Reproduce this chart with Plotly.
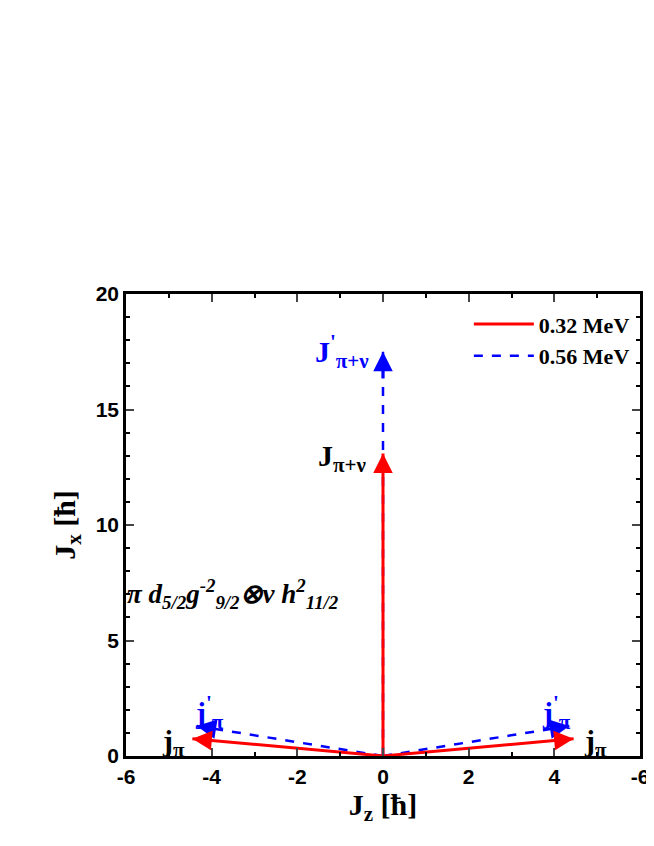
import plotly.graph_objects as go

# data
red_tips = [(0, 13.1), (4.45, 0.75), (-4.45, 0.75)]
blue_tips = [(0, 17.5), (4.35, 1.3), (-4.35, 1.3)]
xticks = [-6, -4, -2, 0, 2, 4, 6]
xticklabels = ["-6", "-4", "-2", "0", "2", "4", "-6"]
yticks = [0, 5, 10, 15, 20]

RED = "#ff0000"; BLUE = "#0000ff"
fig = go.Figure()
first = True
for (x, y) in blue_tips:
    fig.add_trace(go.Scatter(x=[0, x], y=[0, y], mode="lines", line=dict(color=BLUE, width=2.5, dash="dash"),
                             name="0.56 MeV", showlegend=first, legendrank=2))
    first = False
first = True
for (x, y) in red_tips:
    fig.add_trace(go.Scatter(x=[0, x], y=[0, y], mode="lines", line=dict(color=RED, width=3),
                             name="0.32 MeV", showlegend=first, legendrank=1))
    first = False

def head(x, y, c):
    f = 0.93 if x == 0 else 0.9
    fig.add_annotation(x=x, y=y, ax=x * f if x else 0, ay=y * f, xref="x", yref="y", axref="x", ayref="y",
                       showarrow=True, arrowhead=2, arrowsize=1.3, arrowwidth=3, arrowcolor=c, text="")
for (x, y) in blue_tips: head(x, y, BLUE)
for (x, y) in red_tips: head(x, y, RED)

TF = "Liberation Serif"
def lab(x, y, t, c, size=30):
    fig.add_annotation(x=x, y=y, xref="x", yref="y", text=t, showarrow=False,
                       font=dict(family=TF, size=size, color=c))
lab(-0.95, 17.5, "<b>J<sup>'</sup><sub>π+ν</sub></b>", BLUE)
lab(-0.95, 12.9, "<b>J<sub>π+ν</sub></b>", "black")
lab(-4.05, 1.9, "<b>j<sup>'</sup><sub>π</sub></b>", BLUE)
lab(4.05, 1.9, "<b>j<sup>'</sup><sub>π</sub></b>", BLUE)
lab(-4.9, 0.55, "<b>j<sub>π</sub></b>", "black")
lab(4.95, 0.55, "<b>j<sub>π</sub></b>", "black")
lab(-3.5, 7.0, "<b><i>π d<sub>5/2</sub>g<sup>-2</sup><sub>9/2</sub>⊗ν h<sup>2</sup><sub>11/2</sub></i></b>", "black", 27)

ax = dict(showline=True, linewidth=2.5, linecolor="black", mirror="ticks", ticks="inside", ticklen=8,
          tickwidth=2, showgrid=False, zeroline=False,
          tickfont=dict(family="Liberation Sans", size=21, color="black"),
          minor=dict(ticks="inside", ticklen=4, tickwidth=2, tickcolor="black"))
fig.update_xaxes(**ax, range=[-6, 6], tickvals=xticks, ticktext=["<b>%s</b>" % t for t in xticklabels],
                 minor_dtick=1,
                 title=dict(text="<b>J<sub>z</sub> [ħ]</b>", font=dict(family=TF, size=30, color="black"), standoff=5))
fig.update_yaxes(**ax, range=[0, 20], tickvals=yticks, ticktext=["<b>%d</b>" % t for t in yticks],
                 minor_dtick=1,
                 title=dict(text="<b>J<sub>x</sub> [ħ]</b>", font=dict(family=TF, size=30, color="black"), standoff=12))
fig.update_layout(width=654, height=846, plot_bgcolor="white", paper_bgcolor="white",
                  margin=dict(l=118, r=22, t=286, b=98),
                  legend=dict(x=0.99, y=0.98, xanchor="right", yanchor="top", bgcolor="rgba(0,0,0,0)",
                              font=dict(family="Liberation Serif", size=22, color="black"), traceorder="normal",
                              itemwidth=60))
fig.for_each_trace(lambda t: t.update(name="<b>%s</b>" % t.name))
fig.write_html("out.html")
